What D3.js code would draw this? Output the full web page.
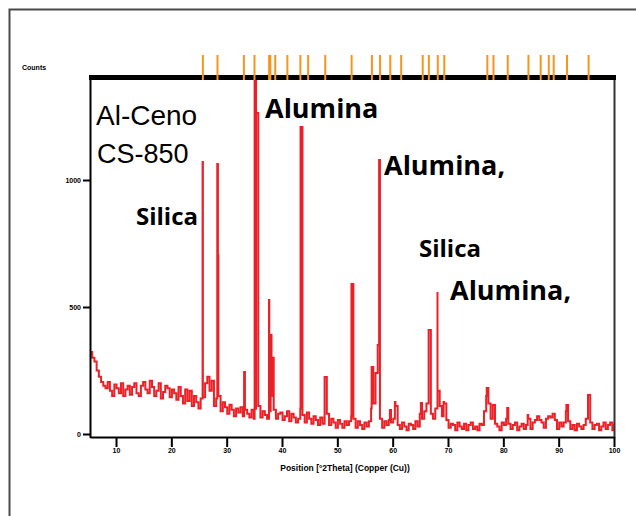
<!DOCTYPE html>
<html>
<head>
<meta charset="utf-8">
<script src="https://cdn.jsdelivr.net/npm/d3@7"></script>
<style>
  body { margin: 0; background: #fff; }
  svg { display: block; }
</style>
</head>
<body>
<div id="chart"></div>
<script>
// scan grid (deg 2theta) and background counts
const scanStart = 5.3;
const scanStep = 0.4;
const counts = [
  323, 300, 285, 250, 225, 205, 190, 180,
  205, 170, 150, 195, 180, 160, 200, 150, 175, 190,
  155, 185, 200, 160, 150, 190, 205, 175, 160, 210,
  185, 150, 170, 200, 140, 165, 190, 180, 145, 175,
  160, 135, 185, 150, 120, 175, 130, 170, 110, 150,
  125, 100, 140,
  145, 200, 225, 170, 210, 110, 140, 150, 90, 125,
  105, 80, 115, 95, 70, 100, 85, 105, 70, 95,
  80, 65, 95, 60, 95, 110, 65, 90, 75, 60,
  90, 150, 95, 60, 80, 85, 55, 70, 90, 50,
  80, 65, 45, 60, 100, 75, 45, 85, 60, 40,
  70, 55, 35, 65, 40, 90, 80, 35, 60, 45,
  25, 55, 40, 25, 50, 35, 50, 70, 60, 25,
  50, 35, 20, 45, 30, 50, 100, 120, 240, 350,
  60, 25, 50, 35, 55, 45, 60, 110, 35, 20,
  45, 30, 15, 40, 35, 20, 50, 30, 80, 60,
  90, 120, 150, 80, 60, 100, 170, 110, 70, 120,
  55, 25, 40, 35, 15, 45, 30, 20, 40, 15,
  35, 45, 20, 30, 15, 40, 35, 90, 150, 120,
  60, 95, 40, 30, 15, 45, 35, 60, 40, 20,
  35, 45, 15, 30, 40, 20, 35, 60, 20, 45,
  55, 70, 55, 45, 25, 60, 70, 65, 80, 55,
  20, 45, 30, 45, 90, 50, 20, 35, 15, 40,
  30, 20, 35, 60, 110, 45, 20, 35, 40, 15,
  30, 45, 20, 35, 45, 15, 40
];

// sharp reflections
const peakAngles = [25.65, 28.30, 28.42, 33.15, 35.05, 35.30, 37.65, 37.95, 38.15,
  43.35, 47.70, 52.55, 56.20, 57.55, 59.50, 60.40, 65.10, 66.50, 68.10, 69.20,
  77.00, 78.10, 80.70, 84.40, 91.40, 95.30];
const peakCounts = [1071, 1063, 705, 244, 1450, 1264, 528, 390, 300,
  1209, 224, 591, 264, 1079, 94, 126, 122, 409, 559, 126,
  181, 114, 102, 75, 114, 154];

// reference pattern stick positions (top strip)
const refAngles = [25.70, 28.34, 33.11, 35.03, 37.67, 37.89, 38.78, 40.97, 43.32,
  44.72, 47.81, 52.58, 56.25, 57.72, 59.57, 61.54, 65.43, 66.54, 68.15, 69.33,
  77.11, 78.22, 80.79, 84.54, 86.75, 88.21, 89.10, 91.51, 95.41];

const xTicks = [10, 20, 30, 40, 50, 60, 70, 80, 90, 100];
const yTicks = [0, 500, 1000];

const labels = [
  { text: "Alumina", x: 265, y: 118 },
  { text: "Alumina,", x: 384, y: 175 },
  { text: "Silica", x: 136, y: 225, small: true },
  { text: "Silica", x: 419, y: 257, small: true },
  { text: "Alumina,", x: 450, y: 300 },
];

const width = 636, height = 516;
const plotLeft = 90, plotRight = 614, plotTop = 78, plotBottom = 437;

const svg = d3.select("#chart")
  .append("svg")
  .attr("width", width)
  .attr("height", height);

svg.append("rect").attr("width", width).attr("height", height).attr("fill", "#fff");

// outer frame (only top/left visible)
svg.append("rect")
  .attr("x", 9.5).attr("y", 9.5)
  .attr("width", 660).attr("height", 540)
  .attr("fill", "none")
  .attr("stroke", "#4a4a4a")
  .attr("stroke-width", 2);

const x = d3.scaleLinear().domain([5.3, 100]).range([plotLeft, plotRight]);
const y = d3.scaleLinear().domain([0, 1000]).range([434, 180]);

// merge background + peaks into one profile
const points = counts.map((c, i) => [scanStart + i * scanStep, c])
  .concat(peakAngles.map((a, i) => [a, peakCounts[i]]))
  .sort((a, b) => a[0] - b[0]);

svg.append("clipPath").attr("id", "plotclip")
  .append("rect")
  .attr("x", plotLeft + 1).attr("y", plotTop)
  .attr("width", plotRight - plotLeft - 1).attr("height", plotBottom - plotTop);

const line = d3.line()
  .x(d => x(d[0]))
  .y(d => y(d[1]))
  .curve(d3.curveStepAfter);

svg.append("path")
  .datum(points)
  .attr("clip-path", "url(#plotclip)")
  .attr("fill", "none")
  .attr("stroke", "#ec2027")
  .attr("stroke-width", 2)
  .attr("d", line);

// frame lines
svg.append("line") // right
  .attr("x1", plotRight + 0.5).attr("x2", plotRight + 0.5)
  .attr("y1", plotTop).attr("y2", plotBottom + 1)
  .attr("stroke", "#333").attr("stroke-width", 2);
svg.append("line") // left
  .attr("x1", plotLeft + 0.5).attr("x2", plotLeft + 0.5)
  .attr("y1", plotTop).attr("y2", plotBottom + 1)
  .attr("stroke", "#000").attr("stroke-width", 2);
svg.append("rect") // heavy top band
  .attr("x", plotLeft - 1).attr("y", 75)
  .attr("width", plotRight - plotLeft + 3).attr("height", 5)
  .attr("fill", "#000");

// x axis
const xAxis = svg.append("g")
  .attr("transform", `translate(0,${plotBottom})`)
  .call(d3.axisBottom(x).tickValues(xTicks).tickSize(10).tickSizeOuter(0).tickPadding(1));
xAxis.select(".domain").attr("stroke", "#000").attr("stroke-width", 2);
xAxis.selectAll(".tick line").attr("stroke", "#000").attr("stroke-width", 2);
xAxis.selectAll(".tick text")
  .attr("font-family", "Liberation Sans, Arial, sans-serif")
  .attr("font-size", 7).attr("font-weight", "bold").attr("fill", "#000");

// y axis
const yAxis = svg.append("g")
  .attr("transform", `translate(${plotLeft},0)`)
  .call(d3.axisLeft(y).tickValues(yTicks).tickFormat(d3.format("d"))
    .tickSize(7).tickSizeOuter(0).tickPadding(2));
yAxis.select(".domain").remove();
yAxis.selectAll(".tick line").attr("stroke", "#000").attr("stroke-width", 2);
yAxis.selectAll(".tick text")
  .attr("font-family", "Liberation Sans, Arial, sans-serif")
  .attr("font-size", 7).attr("font-weight", "bold").attr("fill", "#000");

// reference sticks above the plot
svg.append("g")
  .selectAll("line")
  .data(refAngles)
  .enter()
  .append("line")
  .attr("x1", d => x(d)).attr("x2", d => x(d))
  .attr("y1", 55).attr("y2", 80)
  .attr("stroke", "#f7941d")
  .attr("stroke-width", 2);

// axis captions
svg.append("text")
  .attr("x", 22).attr("y", 70)
  .attr("font-family", "Liberation Sans, Arial, sans-serif")
  .attr("font-size", 7).attr("font-weight", "bold")
  .text("Counts");

svg.append("text")
  .attr("x", 345).attr("y", 471)
  .attr("text-anchor", "middle")
  .attr("font-family", "Liberation Sans, Arial, sans-serif")
  .attr("font-size", 8.5).attr("font-weight", "bold")
  .text("Position [°2Theta] (Copper (Cu))");

// sample name
svg.append("text")
  .attr("x", 96).attr("y", 125)
  .attr("font-family", "Liberation Sans, Arial, sans-serif")
  .attr("font-size", 28)
  .text("Al-Ceno");
svg.append("text")
  .attr("x", 97).attr("y", 163)
  .attr("font-family", "Liberation Sans, Arial, sans-serif")
  .attr("font-size", 27)
  .text("CS-850");

// phase labels
svg.append("g")
  .selectAll("text")
  .data(labels)
  .enter()
  .append("text")
  .attr("x", d => d.x)
  .attr("y", d => d.y)
  .attr("font-family", "Open Sans, sans-serif")
  .attr("font-weight", "bold")
  .attr("font-size", d => d.small ? 24 : 27)
  .attr("fill", "#000")
  .text(d => d.text);
</script>
</body>
</html>
